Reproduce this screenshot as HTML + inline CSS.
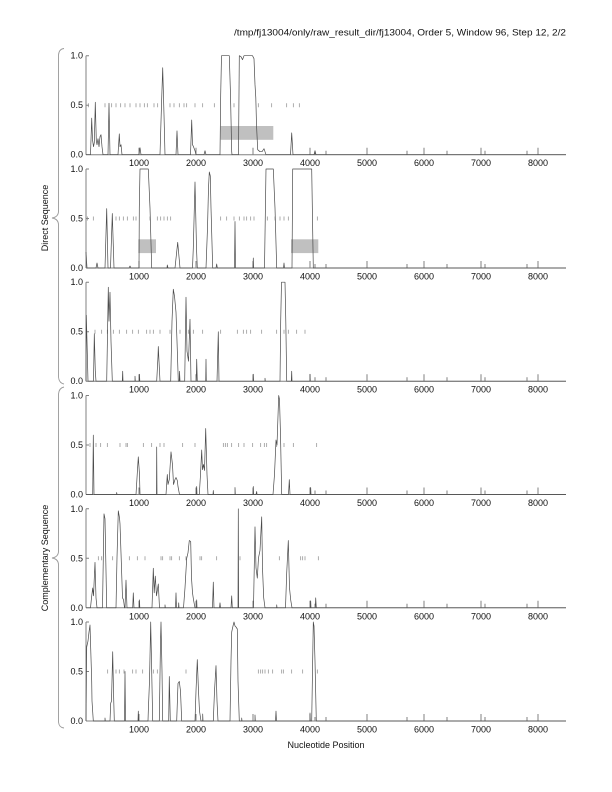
<!DOCTYPE html>
<html><head><meta charset="utf-8"><style>
html,body{margin:0;padding:0;background:#fff;}
svg{display:block;}
text{font-family:"Liberation Sans",Arial,sans-serif;font-size:9px;fill:#111;}
.ax{stroke:#808080;stroke-width:1;fill:none;}
.tr{stroke:#4a4a4a;stroke-width:0.7;fill:none;stroke-linejoin:round;}
.ds{stroke:#8a8a8a;stroke-width:0.7;fill:none;}
.bx{fill:#c0c0c0;}
.br{stroke:#999;stroke-width:0.9;fill:none;}
</style></head><body>
<svg width="612" height="792" viewBox="0 0 612 792" xmlns="http://www.w3.org/2000/svg">
<defs>
<g id="axes">
<path class="ax" d="M86,0H566M86,0V-99M86,-99h3M86,-49.5h3M86,0h3"/>
<path class="ax" d="M139,0v-7M196,0v-7M253,0v-7M310,0v-7M367,0v-7M424,0v-7M481,0v-7M538,0v-7M315,0v-4M326,0v-4M407,0v-4M447,0v-4M485,0v-4M527,0v-4"/>
<text x="83" y="-96" text-anchor="end">1.0</text>
<text x="83" y="-46.5" text-anchor="end">0.5</text>
<text x="83" y="3" text-anchor="end">0.0</text>
<text x="139" y="11.5" text-anchor="middle">1000</text>
<text x="196" y="11.5" text-anchor="middle">2000</text>
<text x="253" y="11.5" text-anchor="middle">3000</text>
<text x="310" y="11.5" text-anchor="middle">4000</text>
<text x="367" y="11.5" text-anchor="middle">5000</text>
<text x="424" y="11.5" text-anchor="middle">6000</text>
<text x="481" y="11.5" text-anchor="middle">7000</text>
<text x="538" y="11.5" text-anchor="middle">8000</text>
</g>
</defs>

<text x="566" y="35.5" text-anchor="end" textLength="332" lengthAdjust="spacingAndGlyphs">/tmp/fj13004/only/raw_result_dir/fj13004, Order 5, Window 96, Step 12, 2/2</text>

<!-- braces -->
<path class="br" d="M64,48.5 Q59,49 58.5,55 L58.5,211 Q58.5,217 52,218 Q58.5,219 58.5,225 L58.5,377 Q59,383 64,384"/>
<path class="br" d="M64,387 Q59,388 58.5,394 L58.5,551 Q58.5,557 52,558 Q58.5,559 58.5,565 L58.5,722 Q59,727.5 64,728"/>
<text transform="translate(48,218) rotate(-90)" text-anchor="middle">Direct Sequence</text>
<text transform="translate(48,558) rotate(-90)" text-anchor="middle">Complementary Sequence</text>
<text x="326" y="748" text-anchor="middle">Nucleotide Position</text>

<!-- Panel 1 -->
<g transform="translate(0,154.7)">
<rect class="bx" x="220.7" y="-28.7" width="52.6" height="13.8"/>
<use href="#axes"/>
<path class="ds" d="M88.3,-51.5v4M105,-51.5v4M111.7,-51.5v4M116,-51.5v4M120.7,-51.5v4M125,-51.5v4M130,-51.5v4M136,-51.5v4M140,-51.5v4M144.3,-51.5v4M147.3,-51.5v4M154,-51.5v4M157.7,-51.5v4M170,-51.5v4M174,-51.5v4M179.3,-51.5v4M184,-51.5v4M186.7,-51.5v4M195,-51.5v4M202.7,-51.5v4M214.3,-51.5v4M234,-51.5v4M258.3,-51.5v4M271.7,-51.5v4M286.7,-51.5v4M293.3,-51.5v4M299.3,-51.5v4"/>
<path class="tr" d="M86,0 L90.5,0 L91.7,-36.6 L92.5,-15 L93.5,-8 L94.3,-12 L95.3,-52.5 L96.3,-14 L97,-10 L98,-16 L99,-8 L100,-18 L101,-20 L102,-8 L103,0 L108,0 L109,-51.5 L110,0 L118,0 L119.3,-20.8 L120,-8 L121,-10 L122,0 L139,0 L140,-7 L141,0 L160,0 L161.5,-50 L162.7,-87 L164,-40 L165,0 L176,0 L177,-23.8 L178,0 L190.5,0 L191.7,-34.7 L192.5,-10 L193.5,-8 L195,-4 L196,0 L204,0 L205,-4 L206,0 L220,0 L220.7,-60 L221.5,-99 L229.3,-99 L230.5,-60 L231.7,-3 L232,0 L238.5,0 L239.3,-99 L241,-98 L242.5,-95 L244,-99 L252.5,-99 L254,-96 L255,-70 L255.8,-57 L256.5,-30 L257.7,-5 L260,-3 L262,-3 L264,-6 L266,0 L290.5,0 L291.7,-21.8 L293,0 L314,0 L315,-4 L316,0 L566,0"/>
</g>

<!-- Panel 2 -->
<g transform="translate(0,268)">
<rect class="bx" x="138.3" y="-28.7" width="17.7" height="13.8"/>
<rect class="bx" x="291" y="-28.7" width="27.3" height="13.8"/>
<use href="#axes"/>
<path class="ds" d="M87.3,-51.5v4M93.3,-51.5v4M116,-51.5v4M119.3,-51.5v4M123.3,-51.5v4M127.3,-51.5v4M133.3,-51.5v4M136,-51.5v4M150,-51.5v4M157.3,-51.5v4M160.7,-51.5v4M164,-51.5v4M167.3,-51.5v4M170.7,-51.5v4M220.7,-51.5v4M226.7,-51.5v4M234,-51.5v4M239.3,-51.5v4M244,-51.5v4M246.7,-51.5v4M250.7,-51.5v4M254,-51.5v4M267.3,-51.5v4M275,-51.5v4M280,-51.5v4M284,-51.5v4M288.3,-51.5v4M317.3,-51.5v4"/>
<path class="tr" d="M86,-16 L87,0 L96,0 L97,-5 L98,0 L105,0 L106.7,-59.4 L108,0 L110.5,0 L112.3,-54.5 L114,0 L129,0 L130,-2 L131,0 L139,0 L139.3,-60 L140,-99 L148.3,-99 L150,-60 L151.7,0 L167,0 L167.3,-3 L168,0 L175,0 L177.7,-25.7 L180,0 L192.5,0 L193.3,-20 L195,-86 L196.5,-20 L197.3,0 L206,0 L207.5,-40 L208.5,-80 L209.3,-96 L210.3,-92 L211,-60 L212.7,0 L216,0 L216.7,-4 L217.3,0 L234.5,0 L235,-46.5 L235.5,0 L253,0 L253.3,-10 L253.6,0 L264.5,0 L266,-99 L273.3,-99 L275,-60 L276.7,0 L283.5,0 L284,-5 L284.5,0 L292,0 L292.7,-99 L311.7,-99 L313.3,0 L566,0"/>
</g>

<!-- Panel 3 -->
<g transform="translate(0,381.2)">
<use href="#axes"/>
<path class="ds" d="M86.7,-51.5v4M95,-51.5v4M101.7,-51.5v4M107.3,-51.5v4M113.3,-51.5v4M119.3,-51.5v4M126.7,-51.5v4M132.7,-51.5v4M138.3,-51.5v4M146.7,-51.5v4M150,-51.5v4M153.3,-51.5v4M160,-51.5v4M170,-51.5v4M180,-51.5v4M188.3,-51.5v4M193.3,-51.5v4M202.7,-51.5v4M220.7,-51.5v4M237.3,-51.5v4M243.3,-51.5v4M246.7,-51.5v4M250.7,-51.5v4M261.7,-51.5v4M276.7,-51.5v4M284,-51.5v4M288.3,-51.5v4M296.7,-51.5v4M305,-51.5v4"/>
<path class="tr" d="M86,0 L86.3,-66 L87,-40 L88,0 L93.5,0 L94.3,-47.5 L95.3,-10 L96,0 L106.7,0 L108.3,-94 L109,-60 L110,-89 L111,-40 L112.3,0 L122.3,0 L122.7,-10 L123,0 L135,0 L135,-5 L135.3,0 L139.3,0 L139.5,-7 L139.8,0 L156.7,0 L158,-25 L158.3,-34.7 L159,-20 L160,0 L170.7,0 L172,-60 L173.3,-92 L174.5,-85 L176,-69 L177,-40 L178.3,0 L179.3,0 L179.5,-10 L180,0 L184.7,0 L186,-84 L187,-30 L188.5,-20 L190,-62 L191,0 L196.3,0 L196.7,-22 L197.3,0 L205.7,0 L206,-22 L206.3,0 L217,0 L218.3,-49.5 L219,0 L253,0 L253.3,-7 L253.6,0 L265,0 L265,-3 L265.3,0 L280,0 L280.7,-60 L281.5,-99 L285,-99 L285.8,-60 L286.7,0 L291.3,0 L291.7,-10 L292,0 L310,0 L310,-7 L310.3,0 L566,0"/>
</g>

<!-- Panel 4 -->
<g transform="translate(0,494.5)">
<use href="#axes"/>
<path class="ds" d="M90,-51.5v4M96,-51.5v4M100.7,-51.5v4M107.3,-51.5v4M120,-51.5v4M126,-51.5v4M127.3,-51.5v4M143.3,-51.5v4M151.7,-51.5v4M160,-51.5v4M164,-51.5v4M182.7,-51.5v4M195,-51.5v4M223.3,-51.5v4M225.3,-51.5v4M227.3,-51.5v4M231.7,-51.5v4M238.7,-51.5v4M244,-51.5v4M252.7,-51.5v4M260.7,-51.5v4M264.3,-51.5v4M266.7,-51.5v4M276.7,-51.5v4M284,-51.5v4M293.3,-51.5v4M316.7,-51.5v4"/>
<path class="tr" d="M86,0 L92.7,0 L93.3,-59.4 L94,0 L116.5,0 L116.7,-2 L117,0 L136,0 L137.5,-25 L138.3,-37.6 L139.5,-20 L140,0 L156.5,0 L156.7,-47.5 L157,0 L166,0 L167.3,-20 L168,-10 L169.3,-15 L171,-42.6 L172.5,-29.7 L173.5,-10 L175,-15 L176,-17 L177.3,-14 L178,-8 L179.5,0 L196.5,0 L196.7,-8 L197,0 L199.3,0 L200.5,-20 L201.7,-44.5 L202.5,-24.8 L203.5,-30 L204.5,-24 L205.7,-66 L207,-20 L208,0 L213,0 L213.3,-4 L213.6,0 L235,0 L235,-7 L235.3,0 L253,0 L253.3,-8 L253.6,0 L256,0 L256.7,-3 L257,0 L273,0 L274.5,-20 L276,-54.5 L277,-49.5 L278.7,-99 L279.5,-95 L280.5,-60 L281.7,0 L288.5,0 L289.3,-14.9 L290,0 L310.5,0 L310.7,-7 L311,0 L566,0"/>
</g>

<!-- Panel 5 -->
<g transform="translate(0,607.8)">
<use href="#axes"/>
<path class="ds" d="M98.3,-51.5v4M101.7,-51.5v4M112.7,-51.5v4M129.3,-51.5v4M137.3,-51.5v4M145,-51.5v4M161,-51.5v4M162.7,-51.5v4M170,-51.5v4M171.7,-51.5v4M179.3,-51.5v4M186,-51.5v4M200,-51.5v4M201.7,-51.5v4M216.7,-51.5v4M240,-51.5v4M279.3,-51.5v4M300.7,-51.5v4M302.7,-51.5v4M305,-51.5v4M318.3,-51.5v4"/>
<path class="tr" d="M86,0 L90.5,0 L91.5,-10 L92.7,-19.8 L93.5,-12 L95,-45.5 L96,-10 L97,0 L102.5,0 L104,-94 L105,-89 L106.7,0 L116,0 L117,-50 L118.3,-97 L119.5,-90 L120,-84 L121.5,-40 L122.5,-10 L123.5,-8 L124.5,0 L125,0 L126,-27.7 L127,0 L132.7,0 L133.3,-14.9 L134,0 L139.3,0 L139.5,-8 L139.8,0 L152,0 L153.3,-39.6 L154.2,-15 L155.3,-31.7 L156.5,-12 L158.3,-23.8 L159.5,0 L165,0 L165,-3 L165.3,0 L175.5,0 L176,-14.9 L176.5,0 L178.5,0 L178.7,-5 L179,0 L183.5,0 L185,-20 L186.7,-49.5 L188,-55 L189.3,-67.3 L190.7,-66.3 L191.5,-30 L192.5,-15 L193.5,-8 L195,0 L196.7,0 L196.7,-8 L197,0 L212.5,0 L213.3,-25.7 L214,0 L219.5,0 L220,-5 L220.5,0 L231,0 L231.7,-11.9 L232.3,0 L238,0 L238.3,-99 L238.6,0 L253.5,0 L255,-81 L256,-40 L257.3,-29.7 L258.5,-50 L260,-57.4 L261.7,-91 L262.5,-39.6 L263.7,-10 L265,0 L276.7,0 L276.7,-3 L277,0 L285.5,0 L286.7,-34.7 L288.3,-67.3 L289.5,-20 L290.7,-7.9 L292,0 L310.5,0 L310.7,-7 L311,0 L315.3,0 L315.7,-9.9 L316.3,0 L566,0"/>
</g>

<!-- Panel 6 -->
<g transform="translate(0,721)">
<use href="#axes"/>
<path class="ds" d="M107.7,-51.5v4M116,-51.5v4M119.3,-51.5v4M124,-51.5v4M132.7,-51.5v4M136,-51.5v4M142.7,-51.5v4M153.3,-51.5v4M157.3,-51.5v4M186,-51.5v4M258.3,-51.5v4M260.7,-51.5v4M262.7,-51.5v4M265,-51.5v4M268.3,-51.5v4M272.7,-51.5v4M281.7,-51.5v4M283.3,-51.5v4M291.7,-51.5v4M302.7,-51.5v4M317.3,-51.5v4"/>
<path class="tr" d="M86,0 L86.7,-74 L88,-80 L89,-89 L90,-96 L91.7,-40 L92,-20 L93.3,0 L105,0 L105,-3 L105.3,0 L110,0 L110.7,-17.8 L111.5,-20 L112.7,-69.3 L113.5,-30 L114.3,0 L124.5,0 L125,-49.5 L125.5,0 L138,0 L138.3,-9.9 L138.7,0 L148,0 L148.3,-9.9 L149.5,-40 L150.7,-99 L151.5,-60 L152.7,0 L159.3,0 L160.5,-80 L161,-99 L162,-50 L162.7,0 L168.7,0 L169.3,-44.5 L170.3,0 L176.7,0 L178,-37.6 L179.3,-39.6 L180.5,-30 L181.7,0 L195,0 L196,-30 L197.3,-61.4 L198.5,-29.7 L199.5,-10 L201,0 L202.7,0 L202.7,-7 L203,0 L213.3,0 L214.5,-30 L216,-55.4 L217,-20 L218,0 L230,0 L231,-60 L231.7,-89 L233,-95 L234,-99 L235,-95 L236,-94 L237.3,-92 L238,-40 L239.3,0 L241.7,0 L241.7,-3 L242,0 L255,0 L255,-6 L255.3,0 L275.5,0 L276,-9.9 L276.5,0 L310,0 L310,-8 L310.3,0 L311.7,0 L312.5,-50 L313.3,-99 L314,-95 L315,-60 L316.3,0 L566,0"/>
</g>
</svg>
</body></html>
